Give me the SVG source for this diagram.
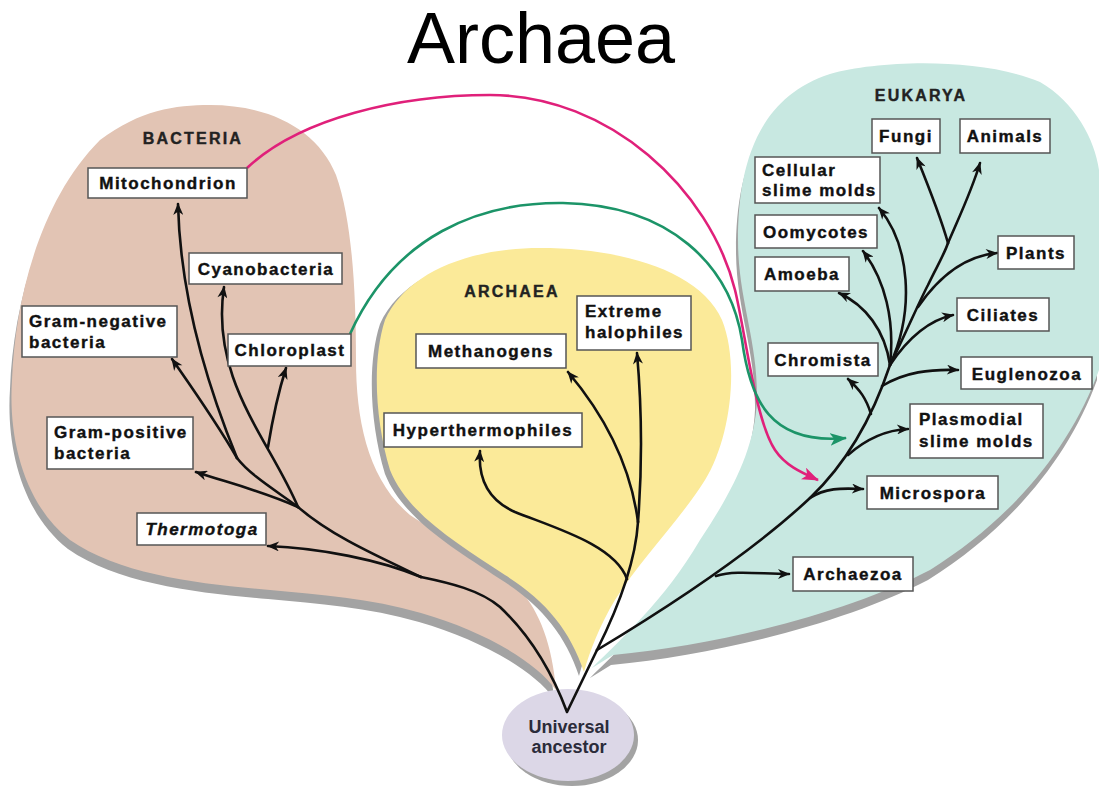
<svg xmlns="http://www.w3.org/2000/svg" width="1099" height="786" viewBox="0 0 1099 786">
<defs>
<style>
.box{fill:#fff;stroke:#555;stroke-width:1.5}
.lbl{font-family:"Liberation Sans",Arial,sans-serif;font-weight:bold;font-size:17px;fill:#111;letter-spacing:1.5px;stroke:#111;stroke-width:0.4}
.c{text-anchor:middle}
.grp{font-family:"Liberation Sans",Arial,sans-serif;font-weight:bold;font-size:16px;fill:#222;letter-spacing:2.2px;text-anchor:middle;stroke:#222;stroke-width:0.4}
.br{fill:none;stroke:#111;stroke-width:2.6;stroke-linecap:round;marker-end:url(#ah)}
.tr{fill:none;stroke:#111;stroke-width:2.6;stroke-linecap:round;stroke-linejoin:round}
.shadow{fill:#a3a3a3}
</style>
<marker id="ah" viewBox="0 0 12 10" refX="11" refY="5" markerWidth="13" markerHeight="10" markerUnits="userSpaceOnUse" orient="auto">
<path d="M0,0 L12,5 L0,10 L3.5,5 Z" fill="#111"/>
</marker>
<marker id="ahp" viewBox="0 0 16 12" refX="15" refY="6" markerWidth="17" markerHeight="13" markerUnits="userSpaceOnUse" orient="auto">
<path d="M0,0 L16,6 L0,12 L4,6 Z" fill="#e0207a"/>
</marker>
<marker id="ahg" viewBox="0 0 16 12" refX="15" refY="6" markerWidth="17" markerHeight="13" markerUnits="userSpaceOnUse" orient="auto">
<path d="M0,0 L16,6 L0,12 L4,6 Z" fill="#1c9468"/>
</marker>
</defs>
<rect width="1099" height="786" fill="#fff"/>
<text x="541" y="63" font-family="Liberation Sans, Arial, sans-serif" font-size="72" text-anchor="middle" fill="#000">Archaea</text>

<g id="regions">
<g id="bacteria-region">
<path class="shadow" transform="translate(-2,9)" d="M556,690 C535,660 480,630 421,613 C370,598 320,595 270,590 C200,584 120,575 70,540 C25,505 8,440 12,380 C15,300 40,200 100,140 C140,110 175,105 210,105 C270,105 318,130 336,175 C352,220 356,290 356,360 C356,420 368,480 410,515 C440,535 490,560 520,590 C540,612 552,645 556,690 Z"/>
<path fill="#e2c4b4" d="M556,690 C535,660 480,630 421,613 C370,598 320,595 270,590 C200,584 120,575 70,540 C25,505 8,440 12,380 C15,300 40,200 100,140 C140,110 175,105 210,105 C270,105 318,130 336,175 C352,220 356,290 356,360 C356,420 368,480 410,515 C440,535 490,560 520,590 C540,612 552,645 556,690 Z"/>
<text class="grp" x="193" y="144">BACTERIA</text>
</g>
<g id="archaea-region">
<path class="shadow" transform="translate(-5,4)" d="M584,672 C570,630 545,600 505,575 C460,545 408,515 390,470 C375,420 372,360 385,320 C405,275 465,248 540,248 C620,248 700,270 722,320 C740,365 730,440 705,480 C680,520 640,560 615,600 C600,625 590,650 584,672 Z"/>
<path fill="#fbea99" d="M584,672 C570,630 545,600 505,575 C460,545 408,515 390,470 C375,420 372,360 385,320 C405,275 465,248 540,248 C620,248 700,270 722,320 C740,365 730,440 705,480 C680,520 640,560 615,600 C600,625 590,650 584,672 Z"/>
<text class="grp" x="512" y="297">ARCHAEA</text>
</g>
<g id="eukarya-region">
<path class="shadow" transform="translate(-2,10)" d="M592,668 C620,640 665,600 700,540 C730,495 755,450 757,400 C758,340 738,300 738,240 C738,170 755,98 830,74 C880,60 980,57 1040,82 C1075,102 1095,140 1099,170 L1099,370 C1070,450 1010,520 930,570 C850,612 720,645 613,655 Z"/>
<path fill="#c8e8e1" d="M592,668 C620,640 665,600 700,540 C730,495 755,450 757,400 C758,340 738,300 738,240 C738,170 755,98 830,74 C880,60 980,57 1040,82 C1075,102 1095,140 1099,170 L1099,370 C1070,450 1010,520 930,570 C850,612 720,645 613,655 Z"/>
<text class="grp" x="921" y="101">EUKARYA</text>
</g>
</g>

<g id="universal-ancestor">
<ellipse cx="572" cy="740" rx="66" ry="46" fill="#a3a3a3"/>
<ellipse cx="568" cy="735" rx="66" ry="46" fill="#dcd7e7"/>
<text x="569" y="733" font-family="Liberation Sans, Arial, sans-serif" font-weight="bold" font-size="18" fill="#2b2b3a" text-anchor="middle">Universal</text>
<text x="569" y="753" font-family="Liberation Sans, Arial, sans-serif" font-weight="bold" font-size="18" fill="#2b2b3a" text-anchor="middle">ancestor</text>
</g>

<g id="connectors">
<path class="tr" d="M421,577 C450,583 480,590 500,607 C535,640 555,680 567,712 L597,650"/>
<path class="tr" d="M421,577 C375,555 330,535 298,507"/>
<path class="br" d="M421,577 C380,560 320,548 268,546"/>
<path class="br" d="M298,507 C260,490 225,482 196,472"/>
<path class="tr" d="M298,507 C275,490 250,475 237,458"/>
<path class="br" d="M237,458 C215,420 190,385 172,359"/>
<path class="br" d="M237,458 C205,380 180,290 178,204"/>
<path class="br" d="M298,507 C270,440 210,380 224,287"/>
<path class="br" d="M268,447 C274,410 279,390 286,368"/>
<path class="tr" d="M597,650 C612,620 635,570 638,522"/>
<path class="br" d="M638,522 C630,460 600,410 568,372"/>
<path class="br" d="M638,522 C642,470 642,410 637,353"/>
<path class="br" d="M627,579 C615,545 555,528 515,512 C488,500 478,478 480,451"/>
<path class="tr" d="M597,650 C680,600 760,545 810,498 C850,460 875,410 890,365"/>
<path class="br" d="M716,576 C735,570 760,574 789,574"/>
<path class="br" d="M810,498 C825,488 840,488 863,489"/>
<path class="br" d="M848,455 C865,440 885,430 908,429"/>
<path class="br" d="M871,414 C866,398 860,390 848,379"/>
<path class="br" d="M882,386 C905,372 930,369 958,370"/>
<path class="br" d="M890,365 C885,330 865,305 839,293"/>
<path class="br" d="M890,365 C895,320 885,280 863,251"/>
<path class="br" d="M890,365 C915,310 910,245 879,208"/>
<path class="br" d="M890,365 C910,335 930,320 953,315"/>
<path class="tr" d="M890,365 C905,335 920,300 928,285 C936,268 944,255 948,243"/>
<path class="br" d="M918,307 C940,275 965,256 997,253"/>
<path class="br" d="M948,243 C940,215 930,190 917,158"/>
<path class="br" d="M948,243 C960,215 972,190 980,163"/>
<path fill="none" stroke="#e0207a" stroke-width="2.6" marker-end="url(#ahp)" d="M247,168 C300,118 400,95 490,95 C610,95 710,190 735,290 C745,330 755,420 775,450 C785,465 800,472 818,480"/>
<path fill="none" stroke="#1c9468" stroke-width="2.6" marker-end="url(#ahg)" d="M350,334 C395,235 480,202 563,203 C670,205 730,265 742,340 C750,400 770,445 846,438"/>
</g>

<g id="mitochondrion"><rect class="box" x="88" y="168" width="159" height="30"/><text class="lbl c" x="168" y="189">Mitochondrion</text></g>
<g id="cyanobacteria"><rect class="box" x="189" y="253" width="153" height="31"/><text class="lbl c" x="266" y="275">Cyanobacteria</text></g>
<g id="gram-negative"><rect class="box" x="22" y="306" width="155" height="51"/><text class="lbl" x="29" y="327">Gram-negative</text><text class="lbl" x="29" y="348">bacteria</text></g>
<g id="chloroplast"><rect class="box" x="228" y="334" width="123" height="32"/><text class="lbl c" x="290" y="356">Chloroplast</text></g>
<g id="gram-positive"><rect class="box" x="47" y="417" width="146" height="52"/><text class="lbl" x="54" y="438">Gram-positive</text><text class="lbl" x="54" y="459">bacteria</text></g>
<g id="thermotoga"><rect class="box" x="137" y="513" width="129" height="32"/><text class="lbl c" x="202" y="535" font-style="italic">Thermotoga</text></g>

<g id="extreme-halophiles"><rect class="box" x="577" y="296" width="114" height="54"/><text class="lbl" x="585" y="317">Extreme</text><text class="lbl" x="585" y="338">halophiles</text></g>
<g id="methanogens"><rect class="box" x="416" y="334" width="150" height="34"/><text class="lbl c" x="491" y="357">Methanogens</text></g>
<g id="hyperthermophiles"><rect class="box" x="384" y="413" width="198" height="34"/><text class="lbl c" x="483" y="436">Hyperthermophiles</text></g>

<g id="fungi"><rect class="box" x="872" y="119" width="68" height="34"/><text class="lbl c" x="906" y="142">Fungi</text></g>
<g id="animals"><rect class="box" x="960" y="119" width="90" height="34"/><text class="lbl c" x="1005" y="142">Animals</text></g>
<g id="cellular-slime-molds"><rect class="box" x="755" y="157" width="125" height="46"/><text class="lbl" x="762" y="176">Cellular</text><text class="lbl" x="762" y="196">slime molds</text></g>
<g id="oomycotes"><rect class="box" x="755" y="215" width="122" height="33"/><text class="lbl c" x="816" y="238">Oomycotes</text></g>
<g id="amoeba"><rect class="box" x="755" y="257" width="94" height="34"/><text class="lbl c" x="802" y="280">Amoeba</text></g>
<g id="plants"><rect class="box" x="998" y="236" width="76" height="33"/><text class="lbl c" x="1036" y="259">Plants</text></g>
<g id="ciliates"><rect class="box" x="957" y="298" width="92" height="33"/><text class="lbl c" x="1003" y="321">Ciliates</text></g>
<g id="chromista"><rect class="box" x="768" y="343" width="110" height="33"/><text class="lbl c" x="823" y="366">Chromista</text></g>
<g id="euglenozoa"><rect class="box" x="961" y="357" width="131" height="32"/><text class="lbl c" x="1027" y="380">Euglenozoa</text></g>
<g id="plasmodial-slime-molds"><rect class="box" x="910" y="404" width="133" height="54"/><text class="lbl" x="919" y="425">Plasmodial</text><text class="lbl" x="919" y="447">slime molds</text></g>
<g id="microspora"><rect class="box" x="867" y="476" width="131" height="33"/><text class="lbl c" x="933" y="499">Microspora</text></g>
<g id="archaezoa"><rect class="box" x="793" y="557" width="120" height="34"/><text class="lbl c" x="853" y="580">Archaezoa</text></g>
</svg>
